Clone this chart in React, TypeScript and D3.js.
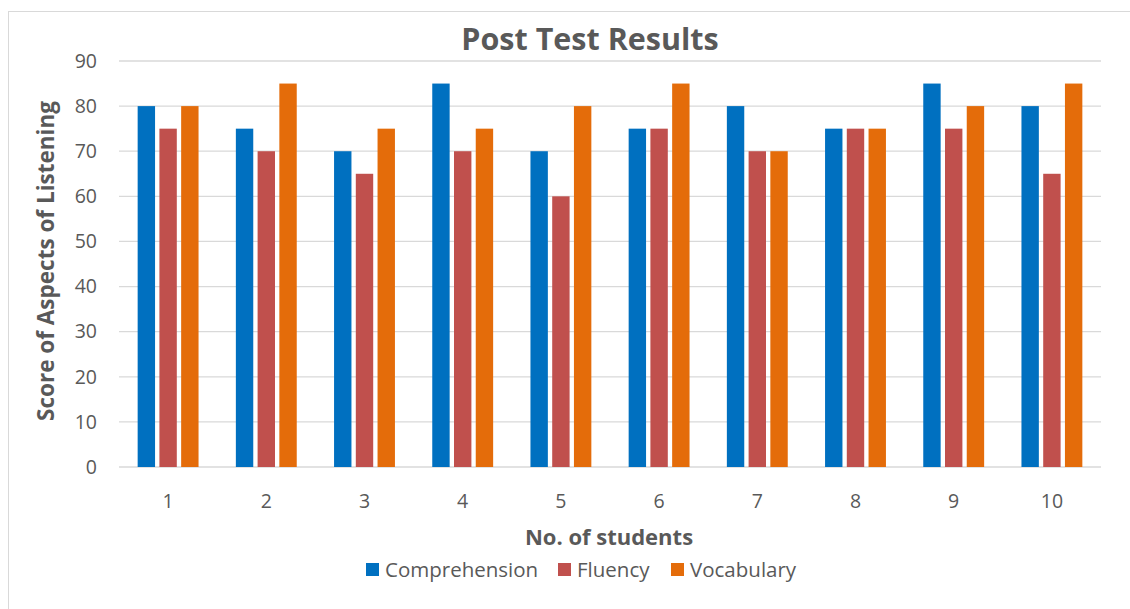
import React from "react";
import * as d3 from "d3";

const STUDENTS = ["1", "2", "3", "4", "5", "6", "7", "8", "9", "10"];
const SERIES = ["Comprehension", "Fluency", "Vocabulary"];
const COMPREHENSION = [80, 75, 70, 85, 70, 75, 80, 75, 85, 80];
const FLUENCY = [75, 70, 65, 70, 60, 75, 70, 75, 75, 65];
const VOCABULARY = [80, 85, 75, 75, 80, 85, 70, 75, 80, 85];
const Y_TICKS = [0, 10, 20, 30, 40, 50, 60, 70, 80, 90];

const COLORS = ["#0070C0", "#C0504D", "#E46C0A"];
const TEXT = "#595959";
const GRID = "#D9D9D9";
const FONT = "'Open Sans', 'Liberation Sans', sans-serif";

const W = 1130;
const H = 609;
const plot = { left: 119, right: 1101, top: 61, bottom: 467 };

export default function App() {
  const values = [COMPREHENSION, FLUENCY, VOCABULARY];

  const x0 = d3.scaleBand<string>()
    .domain(STUDENTS)
    .range([plot.left, plot.right])
    .paddingInner(0.38)
    .paddingOuter(0.19);
  const x1 = d3.scaleBand<string>()
    .domain(SERIES)
    .range([0, x0.bandwidth()])
    .paddingInner(0.2);
  const y = d3.scaleLinear().domain([0, 90]).range([plot.bottom, plot.top]);

  // legend layout: square + label per series
  const legendX = [366, 558, 671];

  return (
    <div style={{ position: "absolute", left: 0, top: 0 }}>
      <svg width={W} height={H} style={{ display: "block", background: "#fff" }} fontFamily={FONT}>
        <rect x={8.5} y={11.5} width={W} height={H} fill="#fff" stroke={GRID} strokeWidth={1} />

        <text x={590} y={50} textAnchor="middle" fontSize={30.5} fontWeight="bold" fill={TEXT}>
          Post Test Results
        </text>

        {/* gridlines */}
        {Y_TICKS.map((t) => (
          <line key={t} x1={plot.left} x2={plot.right} y1={y(t)} y2={y(t)} stroke={GRID} strokeWidth={1.3} />
        ))}

        {/* y tick labels */}
        {Y_TICKS.map((t) => (
          <text key={t} x={97} y={y(t)} dy="0.35em" textAnchor="end" fontSize={19.5} fill={TEXT}>
            {t}
          </text>
        ))}

        {/* bars */}
        {STUDENTS.map((s, i) => (
          <g key={s} transform={`translate(${x0(s)},0)`}>
            {SERIES.map((k, j) => (
              <rect
                key={k}
                x={x1(k)}
                y={y(values[j][i])}
                width={x1.bandwidth()}
                height={y(0) - y(values[j][i])}
                fill={COLORS[j]}
              />
            ))}
          </g>
        ))}

        {/* x tick labels */}
        {STUDENTS.map((s) => (
          <text key={s} x={(x0(s) ?? 0) + x0.bandwidth() / 2} y={508} textAnchor="middle" fontSize={19.5} fill={TEXT}>
            {s}
          </text>
        ))}

        <text x={609} y={545} textAnchor="middle" fontSize={22} fontWeight="bold" fill={TEXT}>
          No. of students
        </text>

        <text
          transform={`translate(54,261) rotate(-90)`}
          textAnchor="middle"
          fontSize={22.5}
          fontWeight="bold"
          fill={TEXT}
        >
          Score of Aspects of Listening
        </text>

        {/* legend */}
        {SERIES.map((k, j) => (
          <g key={k} transform={`translate(${legendX[j]},563)`}>
            <rect x={0} y={0} width={13} height={13} fill={COLORS[j]} />
            <text x={19} y={14} fontSize={20.5} fill={TEXT}>
              {k}
            </text>
          </g>
        ))}
      </svg>
    </div>
  );
}
